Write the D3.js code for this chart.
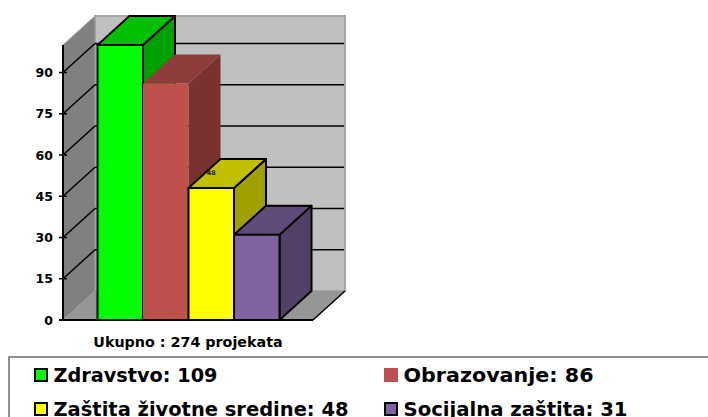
<!DOCTYPE html>
<html><head><meta charset="utf-8">
<script src="https://cdn.jsdelivr.net/npm/d3@7"></script>
<style>html,body{margin:0;padding:0;background:#fff;overflow:hidden}svg{display:block}text{font-family:"DejaVu Sans",sans-serif;font-weight:bold;fill:#000}</style>
</head><body><svg id="c" width="708" height="417"></svg>
<script>
const categories=["Zdravstvo","Obrazovanje","Zaštita životne sredine","Socijalna zaštita"];
const values=[109,86,48,31];
const ticks=[0,15,30,45,60,75,90];
const frontColors=["#00ff00","#c0504d","#ffff00","#8064a2"];
const topColors=["#00c000","#8e3d3a","#c0c000","#604b7a"];
const sideColors=["#00a000","#7a312f","#a0a000","#524067"];
const strokes=["#000","none","#000","#000"];
const footer="Ukupno : 274 projekata";

const svg=d3.select("#c");
const y=d3.scaleLinear().domain([0,100]).range([320,45]).clamp(true);
const x=d3.scaleBand().domain(categories).range([97.5,279.5]);
const dx=32,dy=-29,x0=63,x1=313;
const poly=p=>p.map(a=>a.join(",")).join(" ");

// walls
svg.append("polygon").attr("points",poly([[x0+dx,y(0)+dy],[x1+dx,y(0)+dy],[x1+dx,y(100)+dy],[x0+dx,y(100)+dy]]))
  .attr("fill","#c0c0c0").attr("stroke","#a6a6a6").attr("stroke-width",2);
svg.append("polygon").attr("points",poly([[x0,y(0)],[x0+dx,y(0)+dy],[x0+dx,y(100)+dy],[x0,y(100)]])).attr("fill","#808080").attr("stroke","#a0a0a0").attr("stroke-width",1);
svg.append("polygon").attr("points",poly([[x0,y(0)],[x1,y(0)],[x1+dx,y(0)+dy],[x0+dx,y(0)+dy]])).attr("fill","#969696");
svg.append("line").attr("x1",x1).attr("y1",y(0)).attr("x2",x1+dx).attr("y2",y(0)+dy).attr("stroke","#000").attr("stroke-width",1.5);

// gridlines
ticks.filter(t=>t>0).forEach(t=>{
  const yy=y(t);
  svg.append("line").attr("x1",x0).attr("y1",yy).attr("x2",x0+dx).attr("y2",yy+dy).attr("stroke","#000").attr("stroke-width",1.5);
  svg.append("line").attr("x1",x0+dx).attr("y1",yy+dy).attr("x2",x1+dx-1).attr("y2",yy+dy).attr("stroke","#000").attr("stroke-width",1.5);
});

// bars
categories.forEach((c,i)=>{
  const l=x(c),r=l+x.bandwidth(),t=y(values[i]),b=y(0),s=strokes[i],w=s==="none"?0:2;
  svg.append("polygon").attr("points",poly([[r,t],[r+dx,t+dy],[r+dx,b+dy],[r,b]])).attr("fill",sideColors[i]).attr("stroke",s).attr("stroke-width",w).attr("stroke-linejoin","round");
  svg.append("polygon").attr("points",poly([[l,t],[r,t],[r+dx,t+dy],[l+dx,t+dy]])).attr("fill",topColors[i]).attr("stroke",s).attr("stroke-width",w).attr("stroke-linejoin","round");
  svg.append("rect").attr("x",l).attr("y",t).attr("width",r-l).attr("height",b-t).attr("fill",frontColors[i]).attr("stroke",s).attr("stroke-width",w);
});
svg.append("text").attr("x",x(categories[2])+x.bandwidth()/2).attr("y",y(48)-13).attr("text-anchor","middle").attr("font-size",6.5).style("fill","#222").text(values[2]);

// axis
const axis=svg.append("g");
axis.append("line").attr("x1",x0).attr("y1",y(100)).attr("x2",x0).attr("y2",y(0)).attr("stroke","#000").attr("stroke-width",2);
axis.append("line").attr("x1",x0-4).attr("y1",y(0)).attr("x2",x1).attr("y2",y(0)).attr("stroke","#000").attr("stroke-width",2);
ticks.forEach(t=>{
  axis.append("line").attr("x1",x0-4).attr("y1",y(t)).attr("x2",x0+4).attr("y2",y(t)).attr("stroke","#000").attr("stroke-width",1.5);
  axis.append("text").attr("x",53).attr("y",y(t)+4.5).attr("text-anchor","end").attr("font-size",12.5).text(t);
});
svg.append("text").attr("x",188).attr("y",346.5).attr("text-anchor","middle").attr("font-size",14.3).text(footer);

// legend
svg.append("rect").attr("x",9).attr("y",357).attr("width",720).attr("height",80).attr("fill","#fff").attr("stroke","#6e6e6e").attr("stroke-width",1.5);
const legX=[34,384],legY=[368,402],legW=[164,190,295,224];
categories.forEach((c,i)=>{
  const lx=legX[i%2],ly=legY[Math.floor(i/2)],none=strokes[i]==="none";
  svg.append("rect").attr("x",none?lx:lx+1).attr("y",none?ly:ly+1).attr("width",none?14:12).attr("height",none?14:12).attr("fill",frontColors[i]).attr("stroke",strokes[i]).attr("stroke-width",none?0:2);
  svg.append("text").attr("x",lx+19.5).attr("y",ly+14).attr("font-size",20).attr("textLength",legW[i]).attr("lengthAdjust","spacingAndGlyphs").text(c+": "+values[i]);
});
</script></body></html>
